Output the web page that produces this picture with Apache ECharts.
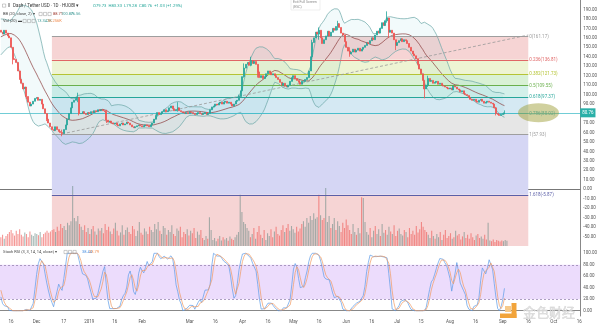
<!DOCTYPE html>
<html><head><meta charset="utf-8">
<script src="https://cdn.jsdelivr.net/npm/echarts@6/dist/echarts.min.js"></script>
<style>html,body{margin:0;padding:0;background:#fff}#c{width:600px;height:325px}</style>
</head><body><div id="c"></div><script>
// ---------- data ----------
const startDate = '2018-11-10';
const totalSlots = 341;
// warm-up closes before the visible range (for BB / Stoch RSI only)
const priorCloses = [152,155,153,150,151,149,152,154,156,153,150,146,148,151,153,155,152,150,149,151,150,148,147,149,151,150,152,154,156,158,160,163,166,172,178,175,171,169,167,168];
const firstOpen = 168;
const closes = [
166,164,168,165,162,160,150,138,137,134,
125,116,112,106,108,98,92,88,90,93,
96,97,94,95,90,85,80,74,70,66,
63,62,66,63,61,60,59,63,68,74,
80,86,92,94,96,97,80,80,82,80,
79,81,80,82,81,83,82,84,83,84,
83,82,73,71,72,70,69,70,68,67,
69,70,68,69,71,70,68,66,65,66,
67,68,67,66,67,68,67,66,68,70,
74,78,81,79,80,82,84,82,83,86,
88,85,83,84,86,83,82,81,80,81,
80,82,81,80,79,80,81,80,79,80,
81,79,80,84,87,88,90,89,91,92,
90,92,93,91,92,90,88,90,93,94,
98,104,119,128,132,134,131,136,133,135,
132,124,118,120,117,119,122,125,123,121,
122,120,118,116,113,110,112,109,108,110,
114,118,120,117,115,113,111,114,114,116,
118,125,140,155,160,166,164,168,160,154,
158,162,167,162,166,170,168,172,175,171,
165,163,156,150,146,143,145,148,145,147,
149,146,148,150,152,155,154,157,160,158,
163,167,165,170,176,173,178,181,166,168,
165,158,152,155,157,159,156,158,157,154,
150,146,143,141,138,132,127,122,115,106,
110,117,114,115,112,113,114,111,112,110,
109,108,107,106,107,105,109,108,106,105,
103,104,101,100,99,97,95,94,95,93,
92,94,95,93,91,92,93,92,91,90,
86,80,79,78,79,79.73,80.76];
// notable wicks: [index, high, low]
const wicks = [[7,140,132],[15,108,95],[27,80,72],[36,63,56],[45,102,92],[46,97,78],[62,84,70],[104,92,82],[140,100,94],[143,133,118],[147,140,130],[151,132,118],[183,158,138],[187,171,158],[198,178,168],[205,150,140],[227,188,176],[228,181,160],[232,158,147],[249,114,96],[251,120,108],[291,87,78],[296,83.33,79.28]];
// volume in thousands
const volumesK = [
22,28,18,25,30,35,40,32,26,38,30,42,28,24,34,30,22,36,28,25,32,30,27,35,22,30,34,38,33,36,40,
42,35,48,38,55,45,50,40,58,52,62,
150,
70,62,75,55,48,
40,52,35,45,30,42,50,36,28,44,38,
45,32,55,40,48,36,30,44,58,38,26,34,52,28,40,46,35,30,50,42,25,38,60,33,28,44,36,30,48,40,
35,55,42,60,38,30,50,45,28,40,35,52,30,25,44,38,48,22,35,30,42,26,38,32,45,20,36,28,40,
20,15,25,18,
72,40,
15,20,12,18,25,14,22,16,20,13,24,18,15,22,28,35,
128,85,60,55,45,
38,22,30,45,18,35,50,28,20,40,15,32,25,42,22,36,48,30,26,
40,52,35,45,55,38,50,42,33,48,36,44,
55,62,48,70,58,75,65,82,68,72,
128,
77,65,70,
145,
60,75,45,55,70,40,62,50,35,58,45,66,52,
40,30,55,35,28,45,32,
122,120,60,
35,28,45,22,38,50,30,42,25,55,33,40,28,48,36,30,52,25,38,44,30,26,40,35,22,45,30,38,28,50,34,42,
60,48,40,
35,28,20,38,25,18,30,22,35,15,28,40,20,25,32,18,22,38,26,30,16,24,35,20,28,18,32,22,15,26,30,20,24,18,28,16,
58,
14,12,16,10,15,13,11,14,12,15,13.342];
const fibHigh = 161.17, fibLow = 57.93;
const fibRatios = [0,0.236,0.382,0.5,0.618,0.786,1,1.618,2.618];
const fibStart = '2018-12-10', fibEnd = '2019-09-16';
const trendStart = ['2018-12-16', 58.5], trendEnd = ['2019-09-16', 163];
const lastPrice = 80.76;
const ellipseCenter = ['2019-09-22', 80.8];
const timeTicks = [['2018-11-16','16'],['2018-12-01','Dec'],['2018-12-17','17'],['2019-01-01','2019'],['2019-01-16','16'],['2019-02-01','Feb'],['2019-03-01','Mar'],['2019-03-16','16'],['2019-04-01','Apr'],['2019-04-16','16'],['2019-05-01','May'],['2019-05-16','16'],['2019-06-01','Jun'],['2019-06-16','16'],['2019-07-01','Jul'],['2019-07-15','15'],['2019-08-01','Aug'],['2019-08-16','16'],['2019-09-01','Sep'],['2019-09-16','16'],['2019-10-01','Oct'],['2019-10-16','16']];

// ---------- styles ----------
const UP = '#26a69a', DOWN = '#ef5350';
const FF = 'Roboto, "Liberation Sans", sans-serif';
const fibLineColors = ['#9e9e9e','#e06666','#b5c434','#6ab04c','#26a69a','#46b4c8','#9e9e9e','#5b5fa8'];
const fibFillColors = ['#f6d4d4','#eef4d3','#d9f1d5','#d3f0ea','#d5e9f3','#e6e6e6','#d5d6f4','#f6d4d4'];
const priceMin = -60, priceMax = 200;

// ---------- derived ----------
const dates = [];
const d0 = Date.parse(startDate + 'T00:00:00Z');
for (let i = 0; i < totalSlots; i++) dates.push(new Date(d0 + i * 86400000).toISOString().slice(0, 10));
const ohlc = closes.map((c, i) => { const o = i === 0 ? firstOpen : closes[i - 1]; return [o, c, Math.min(o, c), Math.max(o, c)]; });
wicks.forEach(([i, h, l]) => { if (ohlc[i]) { ohlc[i][3] = Math.max(ohlc[i][3], h); ohlc[i][2] = Math.min(ohlc[i][2], l); } });

const all = priorCloses.concat(closes), P = priorCloses.length;
const bbMid = [], bbUp = [], bbLo = [], bbBand = [];
for (let i = 0; i < closes.length; i++) {
  const w = all.slice(P + i - 19, P + i + 1);
  const m = w.reduce((a, b) => a + b, 0) / w.length;
  const sd = Math.sqrt(w.reduce((a, b) => a + (b - m) * (b - m), 0) / w.length);
  bbMid.push(m); bbUp.push(m + 2 * sd); bbLo.push(m - 2 * sd); bbBand.push(4 * sd);
}
// Stoch RSI (3,3,14,14)
const rsi = new Array(all.length).fill(null);
let ag = 0, al = 0;
for (let t = 1; t <= 14; t++) { const ch = all[t] - all[t - 1]; ag += Math.max(ch, 0); al += Math.max(-ch, 0); }
ag /= 14; al /= 14; rsi[14] = al === 0 ? 100 : 100 - 100 / (1 + ag / al);
for (let t = 15; t < all.length; t++) { const ch = all[t] - all[t - 1]; ag = (ag * 13 + Math.max(ch, 0)) / 14; al = (al * 13 + Math.max(-ch, 0)) / 14; rsi[t] = al === 0 ? 100 : 100 - 100 / (1 + ag / al); }
const st = new Array(all.length).fill(null), K = new Array(all.length).fill(null), D = new Array(all.length).fill(null);
for (let t = 27; t < all.length; t++) { const w = rsi.slice(t - 13, t + 1); const mn = Math.min(...w), mx = Math.max(...w); st[t] = mx === mn ? 50 : (rsi[t] - mn) / (mx - mn) * 100; }
for (let t = 29; t < all.length; t++) K[t] = (st[t] + st[t - 1] + st[t - 2]) / 3;
for (let t = 31; t < all.length; t++) D[t] = (K[t] + K[t - 1] + K[t - 2]) / 3;
const kVis = closes.map((c, i) => K[P + i]), dVis = closes.map((c, i) => D[P + i]);
const volData = volumesK.map((v, i) => ({ value: v, itemStyle: { color: (ohlc[i] && ohlc[i][1] >= ohlc[i][0]) ? 'rgba(110,140,135,0.6)' : 'rgba(239,83,80,0.6)' } }));

const fibLevels = fibRatios.map(r => fibHigh - r * (fibHigh - fibLow));
const fibAreas = [], fibLines = [];
for (let i = 0; i < fibLevels.length - 1; i++) {
  fibAreas.push([{ xAxis: fibStart, yAxis: fibLevels[i], itemStyle: { color: fibFillColors[i] } }, { xAxis: fibEnd, yAxis: Math.max(fibLevels[i + 1], priceMin) }]);
  fibLines.push([{ coord: [fibStart, fibLevels[i]], lineStyle: { color: fibLineColors[i] }, label: { color: fibLineColors[i], formatter: fibRatios[i] + '(' + fibLevels[i].toFixed(2) + ')' } }, { coord: [fibEnd, fibLevels[i]] }]);
}
const tickMap = new Map(timeTicks);

const chart = echarts.init(document.getElementById('c'), null, { renderer: 'canvas' });
const option = {
  animation: false,
  backgroundColor: '#fff',
  textStyle: { fontFamily: FF },
  grid: [
    { left: 0, right: 17, top: 0, height: 246 },
    { left: 0, right: 17, top: 170, height: 76 },
    { left: 0, right: 17, top: 246, height: 70 }
  ],
  xAxis: [
    { type: 'category', gridIndex: 0, data: dates, boundaryGap: true, axisLine: { show: true, lineStyle: { color: '#777', width: 1 } }, axisTick: { show: false }, axisLabel: { show: false }, splitLine: { show: false } },
    { type: 'category', gridIndex: 1, data: dates, boundaryGap: true, show: false },
    { type: 'category', gridIndex: 2, data: dates, boundaryGap: true, axisLine: { show: true, lineStyle: { color: '#888', width: 1 } }, axisTick: { show: false }, splitLine: { show: false },
      axisLabel: { interval: (idx, val) => tickMap.has(val), formatter: v => tickMap.get(v) || '', fontSize: 4.5, color: '#555', margin: 3, hideOverlap: false } }
  ],
  yAxis: [
    { type: 'value', gridIndex: 0, position: 'right', min: priceMin, max: priceMax, interval: 10, splitLine: { show: false }, axisTick: { show: false },
      axisLine: { show: true, lineStyle: { color: '#888' } }, axisLabel: { fontSize: 4.5, color: '#555', margin: 3, formatter: v => v.toFixed(2), showMinLabel: false, showMaxLabel: false } },
    { type: 'value', gridIndex: 1, min: 0, max: 190, show: false },
    { type: 'value', gridIndex: 2, position: 'right', min: -9.2, max: 112.7, splitLine: { show: false }, axisTick: { show: false },
      axisLine: { show: true, lineStyle: { color: '#888' } }, axisLabel: { fontSize: 4.5, color: '#555', margin: 3, formatter: v => v.toFixed(2), showMinLabel: false, showMaxLabel: false } }
  ],
  series: [
    { type: 'line', xAxisIndex: 0, yAxisIndex: 0, z: 1, data: closes.map(() => null), silent: true,
      markArea: { silent: true, data: fibAreas },
      markLine: { silent: true, symbol: ['none', 'none'], lineStyle: { type: 'solid', width: 1 },
        label: { show: true, position: 'end', distance: 1, fontSize: 4.5, fontFamily: FF }, data: fibLines } },
    { type: 'line', xAxisIndex: 0, yAxisIndex: 0, z: 2, data: bbLo, stack: 'bb', symbol: 'none', lineStyle: { opacity: 0 }, silent: true },
    { type: 'line', xAxisIndex: 0, yAxisIndex: 0, z: 2, data: bbBand, stack: 'bb', symbol: 'none', lineStyle: { opacity: 0 }, areaStyle: { color: 'rgba(0,150,170,0.07)' }, silent: true },
    { type: 'line', xAxisIndex: 0, yAxisIndex: 0, z: 3, data: bbUp, symbol: 'none', lineStyle: { color: '#6aa6a6', width: 0.7 }, silent: true },
    { type: 'line', xAxisIndex: 0, yAxisIndex: 0, z: 3, data: bbLo, symbol: 'none', lineStyle: { color: '#6aa6a6', width: 0.7 }, silent: true },
    { type: 'line', xAxisIndex: 0, yAxisIndex: 0, z: 3, data: bbMid, symbol: 'none', lineStyle: { color: '#8b3b3b', width: 0.7 }, silent: true,
      markLine: { silent: true, symbol: ['none', 'none'], lineStyle: { color: '#999', type: [3, 2], width: 0.8 }, label: { show: false },
        data: [[{ coord: trendStart }, { coord: trendEnd }]] } },
    { type: 'bar', xAxisIndex: 1, yAxisIndex: 1, z: 2, data: volData, barWidth: 1.1, silent: true },
    { type: 'candlestick', xAxisIndex: 0, yAxisIndex: 0, z: 5, data: ohlc, barWidth: 1.5, silent: true,
      itemStyle: { color: UP, color0: DOWN, borderColor: UP, borderColor0: DOWN, borderWidth: 0.8 },
      markLine: { silent: true, symbol: ['none', 'none'], lineStyle: { color: '#4cc0cc', type: 'solid', width: 0.8 },
        label: { show: true, position: 'end', distance: 0, formatter: lastPrice.toFixed(2), backgroundColor: '#2bb0a8', color: '#fff', fontSize: 4.5, padding: [2, 2], fontFamily: FF },
        data: [{ yAxis: lastPrice }] } },
    { type: 'line', xAxisIndex: 2, yAxisIndex: 2, z: 3, data: kVis, symbol: 'none', lineStyle: { color: '#5b9be6', width: 0.7 }, silent: true,
      markArea: { silent: true, itemStyle: { color: 'rgba(160,80,240,0.2)' }, data: [[{ yAxis: 20 }, { yAxis: 80 }]] },
      markLine: { silent: true, symbol: ['none', 'none'], lineStyle: { color: '#8e7aa8', type: [2, 2], width: 0.7 }, label: { show: false }, data: [{ yAxis: 20 }, { yAxis: 80 }] } },
    { type: 'line', xAxisIndex: 2, yAxisIndex: 2, z: 3, data: dVis, symbol: 'none', lineStyle: { color: '#f09a60', width: 0.7 }, silent: true }
  ]
};
chart.setOption(option);

const txt = (x, y, text, fill, size) => ({ type: 'text', x, y, silent: true, z: 100, style: { text, fill, fontSize: size || 4.5, fontFamily: FF, verticalAlign: 'middle' } });
const box = (x, y) => ({ type: 'rect', silent: true, z: 100, shape: { x, y, width: 3.2, height: 3.2 }, style: { fill: 'none', stroke: '#999', lineWidth: 0.5 } });
const ec = chart.convertToPixel({ xAxisIndex: 0, yAxisIndex: 0 }, ellipseCenter);
chart.setOption({ graphic: [
  { type: 'ellipse', silent: true, z: 50, shape: { cx: ec[0], cy: ec[1], rx: 20.5, ry: 9.5 }, style: { fill: 'rgba(150,150,40,0.45)' } },
  box(2.5, 4), txt(8, 5.7, 'Ⅱ', '#666', 4.5),
  txt(13, 5.7, 'Dash / Tether USD · 1D · HUOBI ▾', '#333', 4.5),
  txt(93, 5.7, 'O79.73  H83.33  L79.28  C80.76  +1.03 (+1.29%)', '#26a69a', 4.2),
  txt(3, 14, 'BB (20, close, 2) ▾', '#444', 4),
  box(39, 12.4), box(43.5, 12.4), box(48, 12.4),
  txt(53, 14, '88.71', '#a0392f', 4), txt(61, 14, '100.87', '#3f9a96', 4), txt(70.5, 14, '76.56', '#3f9a96', 4),
  txt(3, 21, 'Vol (20) ▬', '#444', 4),
  box(23, 19.4), box(27.5, 19.4), box(32, 19.4),
  txt(37, 21, '13.342K', '#3f9a96', 4), txt(47, 21, '16.256K', '#f08a4b', 4),
  { type: 'rect', silent: true, z: 100, shape: { x: 291, y: -1, width: 29, height: 11 }, style: { fill: '#fff', stroke: '#ddd', lineWidth: 0.5 } },
  txt(293, 2.5, 'Exit Full Screen', '#888', 3.5), txt(293, 7, '(ESC)', '#888', 3.5),
  txt(3, 252, 'Stoch RSI (3, 3, 14, 14, close) ▾', '#444', 4),
  box(64, 250.4), box(68.5, 250.4), box(73, 250.4),
  txt(82, 252, '38.44', '#4a90e2', 4), txt(89, 252, '23.79', '#f08a4b', 4),
  { type: 'rect', silent: true, z: 90, shape: { x: 505, y: 306, width: 6, height: 6 }, style: { fill: '#f6c98a' } },
  { type: 'rect', silent: true, z: 90, shape: { x: 511.5, y: 303, width: 5, height: 15 }, style: { fill: '#f2a43a' } },
  { type: 'rect', silent: true, z: 90, shape: { x: 500, y: 313.5, width: 16.5, height: 4.5 }, style: { fill: '#f2a43a' } },
  { type: 'text', silent: true, z: 90, x: 523, y: 312, style: { text: '金色财经', fill: 'rgba(220,220,220,0.9)', stroke: 'rgba(190,190,190,0.8)', lineWidth: 0.4, fontSize: 13, fontFamily: '"Noto Sans CJK SC", sans-serif', verticalAlign: 'middle' } }
] });
</script></body></html>
